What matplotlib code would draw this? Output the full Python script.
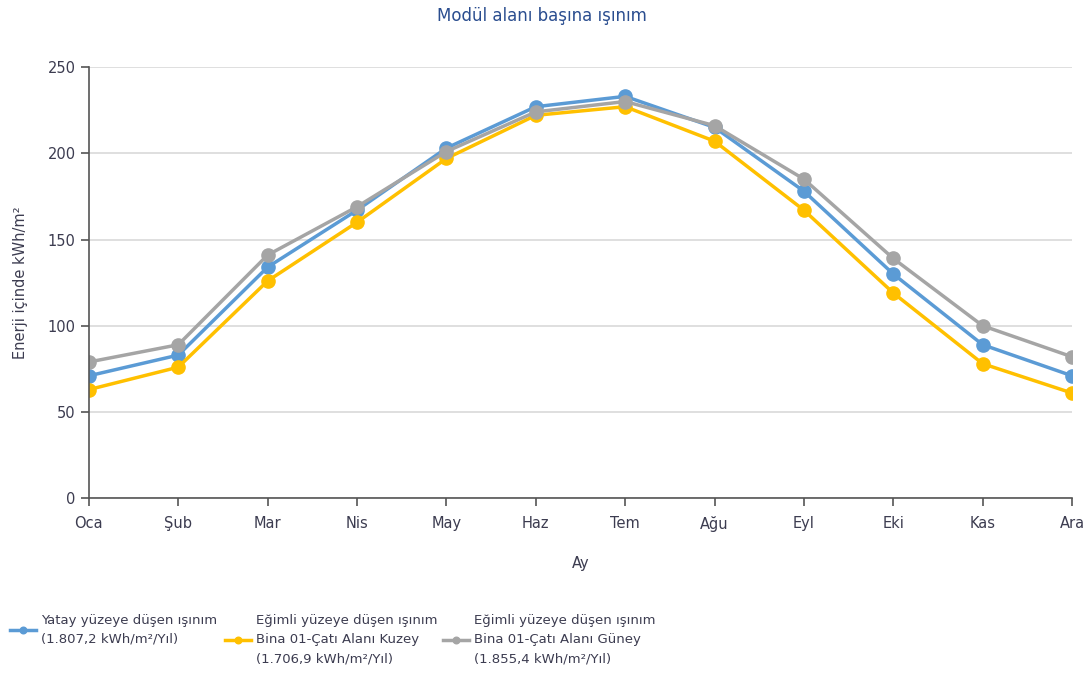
""" monthly irradiation per module area """

import matplotlib.pyplot as plt

months = ["Oca", "Şub", "Mar", "Nis", "May", "Haz", "Tem", "Ağu", "Eyl", "Eki", "Kas", "Ara"]

# values (kWh/m2)
horizontal = [71, 83, 134, 167, 203, 227, 233, 215, 178, 130, 89, 71]
north_roof = [63, 76, 126, 160, 197, 222, 227, 207, 167, 119, 78, 61]
south_roof = [79, 89, 141, 169, 201, 224, 230, 216, 185, 139, 100, 82]

labels = [
    "Yatay yüzeye düşen ışınım\n(1.807,2 kWh/m²/Yıl)",
    "Eğimli yüzeye düşen ışınım\nBina 01-Çatı Alanı Kuzey\n(1.706,9 kWh/m²/Yıl)",
    "Eğimli yüzeye düşen ışınım\nBina 01-Çatı Alanı Güney\n(1.855,4 kWh/m²/Yıl)",
]
colors = ["#5B9BD5", "#FFC000", "#A5A5A5"]

plt.rcParams["font.family"] = ["DejaVu Sans"]
TXT = "#3c3c50"

fig = plt.figure(figsize=(10.84, 6.77), dpi=100)
ax = fig.add_axes([0.082, 0.264, 0.907, 0.637])

x = list(range(len(months)))
lines = []
for series, col, lab in zip([horizontal, north_roof, south_roof], colors, labels):
    (ln,) = ax.plot(x, series, color=col, lw=2.5, marker="o", ms=9.5, label=lab)
    lines.append(ln)

ax.set_xlim(0, 11)
ax.set_ylim(0, 250)
ax.set_yticks([0, 50, 100, 150, 200, 250])
ax.set_xticks(x)
ax.set_xticklabels(months)
ax.grid(axis="y", color="#d9d9d9", lw=1.2)
ax.set_axisbelow(True)
for side in ["top", "right"]:
    ax.spines[side].set_visible(False)
for side in ["left", "bottom"]:
    ax.spines[side].set_color("#555555")
    ax.spines[side].set_linewidth(1.2)
ax.tick_params(colors="#555555", length=6, width=1.2, labelsize=10.5, labelcolor=TXT)
ax.tick_params(axis="x", pad=7)

ax.set_xlabel("Ay", fontsize=10.5, color=TXT, labelpad=17)
ax.set_ylabel("Enerji içinde kWh/m²", fontsize=10.5, color=TXT, labelpad=14)
fig.suptitle("Modül alanı başına ışınım", y=0.99, fontsize=12, color="#2a4d8f")

# one legend per entry so the texts line up at the top like the original
legend_x = [10 / 1084, 225 / 1084, 443 / 1084]
for ln, lab, lx in zip(lines, labels, legend_x):
    leg = fig.legend([ln], [lab], loc="upper left", bbox_to_anchor=(lx, 1 - 614 / 677),
                     frameon=False, fontsize=9.5, handlelength=2.0, handletextpad=0.35,
                     borderpad=0, borderaxespad=0, markerscale=0.5, labelcolor=TXT)
    for t in leg.get_texts():
        t.set_linespacing(1.6)

plt.savefig("out.png", dpi=100)
